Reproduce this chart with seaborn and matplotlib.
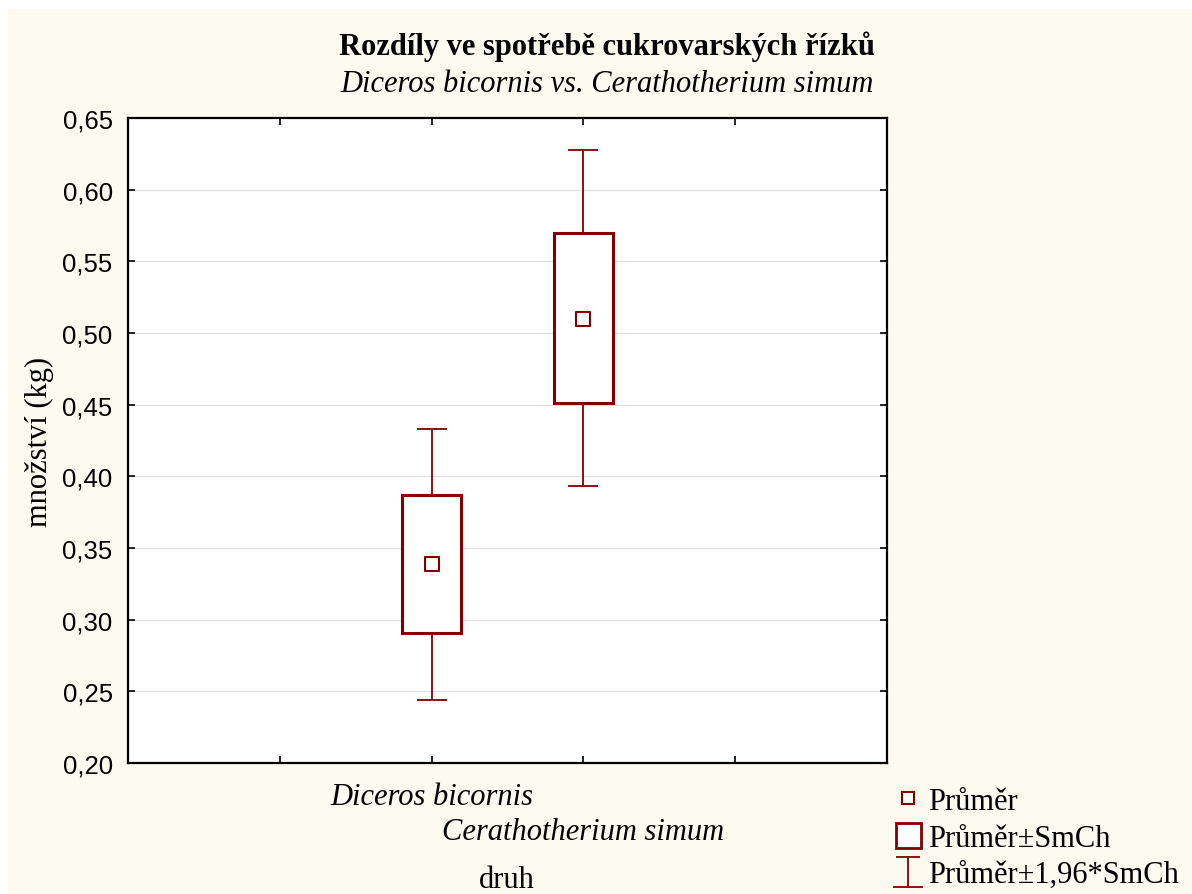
import numpy as np
import matplotlib
matplotlib.use("Agg")
import matplotlib.pyplot as plt
import seaborn as sns
from matplotlib.lines import Line2D
from matplotlib.path import Path
from matplotlib.patches import Rectangle
from matplotlib.ticker import FuncFormatter

# values
species = ["Diceros bicornis", "Cerathotherium simum"]
means = [0.339, 0.510]
se_low = [0.291, 0.451]
se_high = [0.387, 0.570]
ci_low = [0.244, 0.393]
ci_high = [0.433, 0.628]
positions = [2, 3]

dark_red = "#800000"
cream = "#FDFAEF"

sns.set_style("white")
plt.rcParams["font.family"] = ["Liberation Serif", "DejaVu Serif"]
plt.rcParams["text.color"] = "black"
plt.rcParams["xtick.color"] = "black"
plt.rcParams["ytick.color"] = "black"
plt.rcParams["axes.labelcolor"] = "black"

fig = plt.figure(figsize=(11.92, 8.95), dpi=100)
fig.patch.set_facecolor("white")
fig.patches.append(Rectangle((8 / 1192, -0.5), 2, 1.5 - 10 / 895, transform=fig.transFigure,
                             facecolor=cream, edgecolor="none", zorder=-10))

ax = fig.add_axes([128 / 1192, 1 - 764 / 895, 759 / 1192, 645 / 895])
ax.set_facecolor("white")

# whiskers (mean +- 1.96*SE)
ax.errorbar(positions, means,
            yerr=[np.array(means) - np.array(ci_low), np.array(ci_high) - np.array(means)],
            fmt="none", ecolor=dark_red, elinewidth=1.3, capsize=11, capthick=1.3, zorder=3)

# boxes (mean +- SE)
ax.bar(positions, np.array(se_high) - np.array(se_low), bottom=se_low, width=0.39,
       facecolor="white", edgecolor=dark_red, linewidth=2.2, zorder=4)

# means
sns.scatterplot(x=positions, y=means, marker="s", s=90, color="white",
                edgecolor=dark_red, linewidth=1.5, zorder=5, ax=ax, legend=False)

ax.set_xlim(0, 5)
ax.set_ylim(0.20, 0.65)
ax.set_yticks(np.arange(0.20, 0.651, 0.05))
ax.yaxis.set_major_formatter(FuncFormatter(lambda v, p: f"{v:.2f}".replace(".", ",")))
ax.set_xticks([1, 2, 3, 4], ["", species[0], species[1], ""],
              fontstyle="italic", fontsize=22)
for lab in ax.get_yticklabels():
    lab.set_fontfamily(["Liberation Sans", "DejaVu Sans"])
    lab.set_fontsize(18.5)

ax.tick_params(axis="both", direction="in", length=5, width=1.2, color="black",
               top=True, right=True, left=True, bottom=True)
ax.tick_params(axis="x", pad=14)
ax.tick_params(axis="y", pad=11)
# second species label sits one row lower
ax.xaxis.get_major_ticks()[2].set_pad(14 + 35 * 0.72)

for y in np.arange(0.25, 0.601, 0.05):
    ax.axhline(y, color="#E2E2E2", linewidth=1, zorder=0)
for sp in ax.spines.values():
    sp.set_color("black")
    sp.set_linewidth(1.6)

ax.set_ylabel("množství (kg)", fontsize=22, labelpad=6)
fig.text(507 / 1192, 1 - 881 / 895, "druh", fontsize=22, ha="center", va="center")

fig.text(607 / 1192, 1 - 47 / 895, "Rozdíly ve spotřebě cukrovarských řízků",
         fontsize=22, fontweight="bold", ha="center", va="center")
fig.text(607 / 1192, 1 - 85 / 895, "Diceros bicornis vs. Cerathotherium simum",
         fontsize=22, fontstyle="italic", ha="center", va="center")

# legend
ibeam = Path([(0, -1), (0, 1), (-0.8, 1), (0.8, 1), (-1, -1), (1, -1)],
             [Path.MOVETO, Path.LINETO, Path.MOVETO, Path.LINETO, Path.MOVETO, Path.LINETO])
handles = [
    Line2D([], [], linestyle="none", marker="s", markersize=9, markerfacecolor="white",
           markeredgecolor=dark_red, markeredgewidth=1.5),
    Line2D([], [], linestyle="none", marker="s", markersize=18, markerfacecolor="white",
           markeredgecolor=dark_red, markeredgewidth=2),
    Line2D([], [], linestyle="none", marker=ibeam, markersize=22, markerfacecolor="none",
           markeredgecolor=dark_red, markeredgewidth=1.3),
]
fig.legend(handles, ["Průměr", "Průměr±SmCh", "Průměr±1,96*SmCh"],
           loc="upper left", bbox_to_anchor=(893 / 1192, 1 - 788 / 895),
           frameon=False, fontsize=22, handlelength=1.0, handletextpad=0.15,
           labelspacing=0.25, borderpad=0, borderaxespad=0)

fig.savefig("out.png", dpi=100, facecolor=fig.get_facecolor())
